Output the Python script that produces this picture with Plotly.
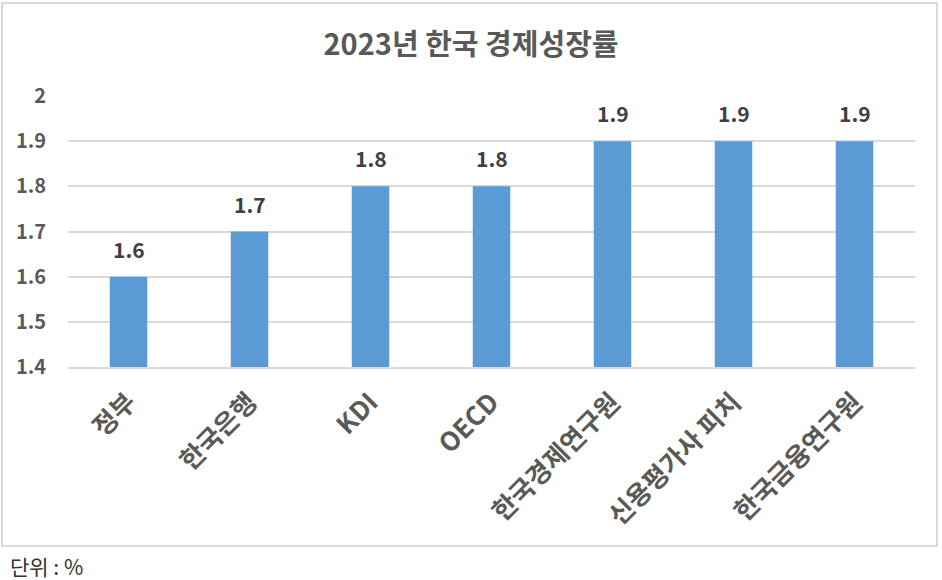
import plotly.graph_objects as go

# 2023 growth forecasts
institutions = ["정부", "한국은행", "KDI", "OECD", "한국경제연구원", "신용평가사 피치", "한국금융연구원"]
growth = [1.6, 1.7, 1.8, 1.8, 1.9, 1.9, 1.9]
y_ticks = [1.4, 1.5, 1.6, 1.7, 1.8, 1.9, 2]

font_kr = "Noto Sans CJK KR, Malgun Gothic, sans-serif"
gray = "#595959"

fig = go.Figure()
fig.add_trace(go.Bar(
    x=institutions,
    y=growth,
    marker=dict(color="#5b9bd5", line=dict(width=0)),
    hoverinfo="x+y",
))

# value labels sit a bit higher above the bars than plotly's "outside" text
value_labels = [dict(
    x=name, y=val, text="<b>%s</b>" % val,
    xref="x", yref="y", showarrow=False,
    yanchor="bottom", yshift=11,
    font=dict(family=font_kr, size=21, color="#404040"),
) for name, val in zip(institutions, growth)]

fig.update_layout(
    width=942, height=580,
    margin=dict(l=68, r=27, t=96, b=213),
    paper_bgcolor="white",
    plot_bgcolor="white",
    bargap=0.69,
    showlegend=False,
    title=dict(
        text="<b>2023년 한국 경제성장률</b>",
        x=0.5, xanchor="center",
        y=0.922, yanchor="middle",
        font=dict(family=font_kr, size=29, color=gray),
    ),
    xaxis=dict(
        tickangle=-45,
        tickfont=dict(family=font_kr, size=26, color=gray, weight="bold"),
        showline=True, linecolor="#d9d9d9", linewidth=1.5,
        ticks="outside", ticklen=8, tickcolor="white",
        automargin=False,
    ),
    yaxis=dict(
        range=[1.4, 2.0],
        tickvals=y_ticks,
        ticktext=[str(v) for v in y_ticks],
        tickfont=dict(family=font_kr, size=20, color=gray, weight="bold"),
        showgrid=True, gridcolor="#d9d9d9", gridwidth=1.5,
        zeroline=False,
        ticks="outside", ticklen=17, tickcolor="white",
        automargin=False,
    ),
    shapes=[dict(
        type="rect", xref="paper", yref="paper",
        x0=-66/847, x1=1 + 22/847, y0=-179/271, y1=1 + 93/271,
        line=dict(color="#d9d9d9", width=2),
    )],
    annotations=value_labels + [dict(
        text="단위 : %",
        xref="paper", yref="paper",
        x=-60/847, y=-199/271, xanchor="left", yanchor="middle",
        showarrow=False,
        font=dict(family=font_kr, size=21, color="#333333"),
    )],
)

# page body has an 8px default margin; drop it so the figure fills the window
fig.write_html("out.html", config={"displayModeBar": False},
               post_script="document.body.style.margin='0';")
